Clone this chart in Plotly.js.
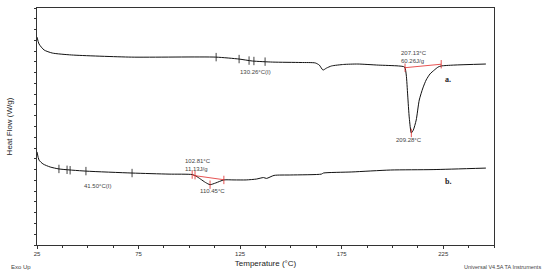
<!DOCTYPE html>
<html>
<head>
<meta charset="utf-8">
<script src="https://cdn.plot.ly/plotly-3.0.1.min.js"></script>
<style>
  body { margin: 0; background: #fff; }
  #chart { width: 550px; height: 274px; }
</style>
</head>
<body>
<div id="chart"></div>
<script>
// curve a. (upper trace)
var tempA = [25, 26, 28.5, 32.5, 42, 71.5, 113, 124.5, 131, 141, 155, 162, 164, 165.8, 167.5, 170, 176, 183, 193, 203,
  206, 206.8, 207.5, 208.3, 209.3, 210.3, 211.7, 213.2, 215, 216.6, 218.5, 220.6, 222.5, 224, 230, 246];
var flowA = [9.65, 9.33, 9.05, 8.91, 8.82, 8.72, 8.72, 8.63, 8.54, 8.49, 8.47, 8.45, 8.35, 8.12, 8.21, 8.31, 8.38, 8.40, 8.35, 8.31,
  8.26, 7.89, 6.96, 5.89, 5.20, 5.34, 5.80, 6.73, 7.29, 7.66, 7.94, 8.12, 8.26, 8.31, 8.35, 8.40];

// curve b. (lower trace)
var tempB = [25, 26, 28, 31.5, 35.8, 49, 71.8, 90, 101.4, 103.3, 105.5, 108, 110.2, 113, 117, 122, 128, 133, 136.5, 138,
  141.7, 150, 165, 166, 180, 199, 220, 246];
var flowB = [4.32, 3.94, 3.76, 3.62, 3.53, 3.43, 3.34, 3.29, 3.27, 3.20, 3.06, 2.90, 2.80, 2.88, 3.02, 3.02, 3.02, 3.06, 3.13, 3.09,
  3.23, 3.25, 3.29, 3.34, 3.39, 3.48, 3.50, 3.57];

// analysis marks
var stepTempA = [113.2, 124.5, 129.4, 131.8, 137.3];
var stepFlowA = [8.72, 8.63, 8.56, 8.54, 8.51];
var stepTempB = [35.8, 39.8, 41.3, 49.1, 71.8];
var stepFlowB = [3.53, 3.49, 3.47, 3.43, 3.34];

var baseTempA = [206.2, 224];
var baseFlowA = [8.23, 8.39];
var redTickTempA = [206.2, 209.3, 224];
var redTickFlowA = [8.23, 5.20, 8.39];

var baseTempB = [101.9, 117];
var baseFlowB = [3.23, 3.03];
var redTickTempB = [101.4, 102.8, 110.2, 117];
var redTickFlowB = [3.27, 3.24, 2.80, 3.02];

var red = '#e02828';
var txt = '#444';

var traces = [
  { x: tempA, y: flowA, mode: 'lines', line: { color: '#111', width: 1, shape: 'spline', smoothing: 0.6 } },
  { x: tempB, y: flowB, mode: 'lines', line: { color: '#111', width: 1, shape: 'spline', smoothing: 0.6 } },
  { x: baseTempA, y: baseFlowA, mode: 'lines', line: { color: red, width: 0.8 } },
  { x: baseTempB, y: baseFlowB, mode: 'lines', line: { color: red, width: 0.8 } },
  { x: stepTempA, y: stepFlowA, mode: 'markers',
    marker: { symbol: 'line-ns', size: 6, line: { color: '#111', width: 0.8 } } },
  { x: stepTempB, y: stepFlowB, mode: 'markers',
    marker: { symbol: 'line-ns', size: 6, line: { color: '#111', width: 0.8 } } },
  { x: redTickTempA, y: redTickFlowA, mode: 'markers',
    marker: { symbol: 'line-ns', size: 6, line: { color: red, width: 0.8 } } },
  { x: redTickTempB, y: redTickFlowB, mode: 'markers',
    marker: { symbol: 'line-ns', size: 6, line: { color: red, width: 0.8 } } }
];

var small = { family: 'Liberation Sans, Arial, sans-serif', size: 6, color: txt };
var label = { family: 'Liberation Serif, Times New Roman, serif', size: 8, color: '#222' };

var layout = {
  width: 550,
  height: 274,
  margin: { l: 37, r: 56, t: 8, b: 29 },
  showlegend: false,
  paper_bgcolor: '#fff',
  plot_bgcolor: '#fff',
  font: { family: 'Liberation Sans, Arial, sans-serif', color: '#222' },
  xaxis: {
    range: [25, 250],
    tick0: 25,
    dtick: 50,
    ticks: 'outside',
    ticklen: 3,
    tickcolor: '#333',
    tickfont: { size: 6, color: '#333' },
    minor: { dtick: 12.5, ticks: 'outside', ticklen: 2, tickcolor: '#333' },
    showgrid: false,
    zeroline: false,
    showline: true,
    mirror: true,
    linecolor: '#333',
    linewidth: 1,
    title: { text: 'Temperature (°C)', font: { size: 8, color: '#222' }, standoff: 4 }
  },
  yaxis: {
    range: [0, 11],
    dtick: 0.5,
    ticks: 'outside',
    ticklen: 2,
    tickcolor: '#333',
    showticklabels: false,
    showgrid: false,
    zeroline: false,
    showline: true,
    mirror: true,
    linecolor: '#333',
    linewidth: 1,
    title: { text: 'Heat Flow (W/g)', font: { size: 8, color: '#222' }, standoff: 20 }
  },
  annotations: [
    { x: 132.4, y: 8.03, text: '130.26°C(I)', showarrow: false, font: small },
    { x: 203.3, y: 8.72, text: '207.13°C<br>60.26J/g', xanchor: 'left', align: 'left', showarrow: false, font: small },
    { x: 227.5, y: 7.66, text: '<b>a.</b>', showarrow: false, font: label },
    { x: 208.3, y: 4.87, text: '209.28°C', showarrow: false, font: small },
    { x: 96.9, y: 3.71, text: '102.81°C<br>11.13J/g', xanchor: 'left', align: 'left', showarrow: false, font: small },
    { x: 111.2, y: 2.51, text: '110.45°C', showarrow: false, font: small },
    { x: 54.6, y: 2.74, text: '41.50°C(I)', showarrow: false, font: small },
    { x: 227.5, y: 2.97, text: '<b>b.</b>', showarrow: false, font: label },
    { xref: 'paper', yref: 'paper', x: -0.062, y: -0.07, xanchor: 'left', yanchor: 'top',
      text: 'Exo Up', showarrow: false, font: small },
    { xref: 'paper', yref: 'paper', x: 1.108, y: -0.07, xanchor: 'right', yanchor: 'top',
      text: 'Universal V4.5A TA Instruments', showarrow: false, font: { family: small.family, size: 5.5, color: txt } }
  ]
};

Plotly.newPlot('chart', traces, layout, { staticPlot: true, displayModeBar: false });
</script>
</body>
</html>
